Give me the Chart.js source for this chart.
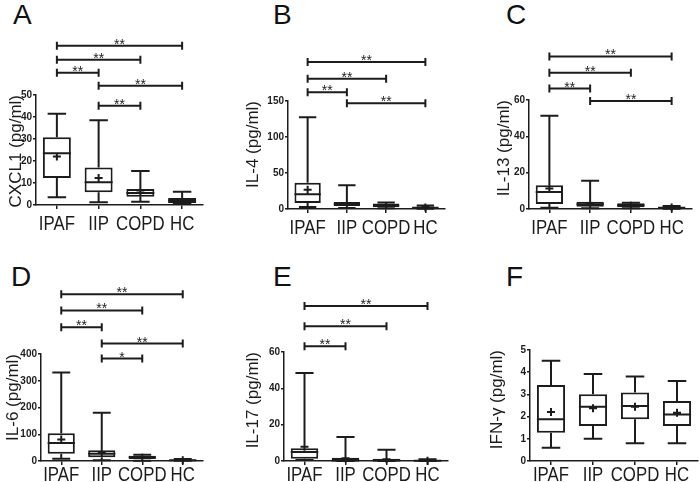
<!DOCTYPE html>
<html>
<head>
<meta charset="utf-8">
<script src="https://cdn.jsdelivr.net/npm/chart.js@4.4.0/dist/chart.umd.min.js"></script>
<style>
  body { margin: 0; background: #fff; }
  #fig { position: relative; width: 700px; height: 482px; overflow: hidden; }
  canvas { position: absolute; }
  .tag { position: absolute; font: 28px/28px "Liberation Sans", Arial, sans-serif; color: #111; }
</style>
</head>
<body>
<div id="fig">
  <div class="tag" style="left:13px;top:1px">A</div>
  <div class="tag" style="left:273px;top:1px">B</div>
  <div class="tag" style="left:506px;top:1px">C</div>
  <div class="tag" style="left:11px;top:263px">D</div>
  <div class="tag" style="left:273px;top:263px">E</div>
  <div class="tag" style="left:506px;top:263px">F</div>
  <canvas id="cA" width="215" height="235" style="left:0;top:0"></canvas>
  <canvas id="cB" width="220" height="240" style="left:235px;top:0"></canvas>
  <canvas id="cC" width="240" height="240" style="left:460px;top:0"></canvas>
  <canvas id="cD" width="215" height="242" style="left:0;top:240px"></canvas>
  <canvas id="cE" width="225" height="242" style="left:235px;top:240px"></canvas>
  <canvas id="cF" width="230" height="242" style="left:470px;top:240px"></canvas>
</div>
<script>
// Grupos
const groups = ['IPAF', 'IIP', 'COPD', 'HC'];

// A - CXCL1
const cxcl1Min = [3.5, 1.2, 1.5, 0.5];
const cxcl1Q1 = [12.3, 5.8, 3.8, 0.9];
const cxcl1Med = [23.5, 10.3, 5.5, 2.0];
const cxcl1Q3 = [30.8, 17.1, 7.3, 3.2];
const cxcl1Max = [41.5, 38.5, 15.5, 6.0];
const cxcl1Mean = [22.0, 12.3, 5.7, 2.1];
const cxcl1Ticks = [0, 10, 20, 30, 40, 50];
const cxcl1Sig = [[0, 3, 72.4, '**'], [0, 2, 66, '**'], [0, 1, 60.1, '**'], [1, 3, 54.2, '**'], [1, 2, 45.1, '**']];

// B - IL-4
const il4Min = [2.8, 1.4, 1.0, 0.3];
const il4Q1 = [8.3, 4.2, 2.5, 0.9];
const il4Med = [20.4, 6.5, 5.0, 1.8];
const il4Q3 = [36.6, 9.7, 7.5, 2.8];
const il4Max = [127.5, 32.9, 9.0, 5.0];
const il4Mean = [26.9, 7.0, 5.0, 2.0];
const il4Ticks = [0, 50, 100, 150];
const il4Sig = [[0, 3, 204, '**'], [0, 2, 181, '**'], [0, 1, 162, '**'], [1, 3, 147, '**']];

// C - IL-13
const il13Min = [0.7, 0.4, 0.4, 0.2];
const il13Q1 = [2.7, 1.3, 0.9, 0.4];
const il13Med = [9.3, 2.6, 2.0, 0.7];
const il13Q3 = [13.1, 4.0, 3.1, 0.9];
const il13Max = [51.3, 15.5, 3.5, 1.6];
const il13Mean = [11.3, 3.1, 1.9, 0.8];
const il13Ticks = [0, 20, 40, 60];
const il13Sig = [[0, 3, 84, '**'], [0, 2, 75, '**'], [0, 1, 66.3, '**'], [1, 3, 59.5, '**']];

// D - IL-6
const il6Min = [8.7, 2.5, 1.2, 0.5];
const il6Q1 = [27, 13.7, 7.5, 1.2];
const il6Med = [67, 27, 14, 3];
const il6Q3 = [104, 40, 20, 5];
const il6Max = [331, 180, 23.5, 7.5];
const il6Mean = [80.7, 33.5, 13, 3];
const il6Ticks = [0, 100, 200, 300, 400];
const il6Sig = [[0, 3, 623, '**'], [0, 2, 563, '**'], [0, 1, 500, '**'], [1, 3, 439, '**'], [1, 2, 383, '*']];

// E - IL-17
const il17Min = [0.5, 0, 0, 0];
const il17Q1 = [1.3, 0, 0, 0];
const il17Med = [5.0, 0.3, 0.3, 0.1];
const il17Q3 = [7.0, 1.8, 1.3, 0.3];
const il17Max = [48.5, 13.2, 6.2, 0.9];
const il17Mean = [7.8, 1.5, 1.0, 0.2];
const il17Ticks = [0, 20, 40, 60];
const il17Sig = [[0, 3, 85.3, '**'], [0, 2, 74.2, '**'], [0, 1, 63.2, '**']];

// F - IFN-γ
const ifngMin = [0.6, 1.0, 0.8, 0.8];
const ifngQ1 = [1.27, 1.58, 1.88, 1.58];
const ifngMed = [1.88, 2.44, 2.48, 2.09];
const ifngQ3 = [3.42, 3.01, 3.09, 2.70];
const ifngMax = [4.52, 3.92, 3.81, 3.60];
const ifngMean = [2.21, 2.38, 2.44, 2.17];
const ifngTicks = [0, 1, 2, 3, 4, 5];
const ifngSig = [];

const ink = '#1c1c1c';
const fam = '"Liberation Sans", Arial, sans-serif';

// bigodes, mediana, média (+), barras de significância e rótulos do eixo x
const boxPlugin = {
    id: 'boxes',
    afterDatasetsDraw(chart) {
        const b = chart.config._config.boxes;
        const y = chart.scales.y;
        const ctx = chart.ctx;
        ctx.save();
        ctx.strokeStyle = ink;
        ctx.lineWidth = 2;
        chart.getDatasetMeta(0).data.forEach((bar, i) => {
            const cx = bar.x, w = bar.width, cap = w * 0.33;
            const yMin = y.getPixelForValue(b.min[i]), yQ1 = y.getPixelForValue(b.q1[i]);
            const yQ3 = y.getPixelForValue(b.q3[i]), yMax = y.getPixelForValue(b.max[i]);
            const yMed = y.getPixelForValue(b.med[i]), yMean = y.getPixelForValue(b.mean[i]);
            ctx.beginPath();
            ctx.moveTo(cx, yQ1); ctx.lineTo(cx, yMin);
            ctx.moveTo(cx - cap, yMin); ctx.lineTo(cx + cap, yMin);
            ctx.moveTo(cx, yQ3); ctx.lineTo(cx, yMax);
            ctx.moveTo(cx - cap, yMax); ctx.lineTo(cx + cap, yMax);
            ctx.moveTo(cx - w / 2, yMed); ctx.lineTo(cx + w / 2, yMed);
            ctx.moveTo(cx - 4, yMean); ctx.lineTo(cx + 4, yMean);
            ctx.moveTo(cx, yMean - 4); ctx.lineTo(cx, yMean + 4);
            ctx.stroke();
        });
        ctx.restore();
    },
    afterDraw(chart) {
        const b = chart.config._config.boxes;
        const x = chart.scales.x, y = chart.scales.y;
        const ctx = chart.ctx;
        ctx.save();
        ctx.strokeStyle = ink;
        ctx.fillStyle = ink;
        ctx.lineWidth = 2;
        ctx.font = '14px ' + fam;
        ctx.textAlign = 'center';
        b.sig.forEach(([a, c, v, txt]) => {
            const x1 = x.getPixelForValue(a), x2 = x.getPixelForValue(c), yy = y.getPixelForValue(v);
            ctx.beginPath();
            ctx.moveTo(x1, yy); ctx.lineTo(x2, yy);
            ctx.moveTo(x1, yy - 4); ctx.lineTo(x1, yy + 4);
            ctx.moveTo(x2, yy - 4); ctx.lineTo(x2, yy + 4);
            ctx.stroke();
            ctx.fillText(txt, (x1 + x2) / 2, yy + 3);
        });
        // rótulos dos grupos, um pouco estreitados como no original
        ctx.font = '20px ' + fam;
        groups.forEach((lab, i) => {
            ctx.save();
            ctx.translate(x.getPixelForValue(i), chart.chartArea.bottom + b.lb);
            ctx.scale(0.84, 1);
            ctx.fillText(lab, 0, 0);
            ctx.restore();
        });
        ctx.restore();
    }
};

function painel(id, title, s, ticks, g) {
    const cfg = {
        type: 'bar',
        data: {
            labels: groups,
            datasets: [{
                data: groups.map((_, i) => [s.q1[i], s.q3[i]]),
                backgroundColor: '#fff',
                borderColor: ink,
                borderWidth: 2,
                borderSkipped: false,
                barPercentage: 0.67,
                categoryPercentage: 1
            }]
        },
        options: {
            responsive: false,
            animation: false,
            layout: { padding: { top: g.pt, right: g.pr, left: 0, bottom: 0 } },
            plugins: { legend: { display: false }, tooltip: { enabled: false } },
            scales: {
                x: {
                    offset: true,
                    afterFit: sc => { sc.height = g.xh; },
                    ticks: { display: false },
                    grid: { offset: false, drawOnChartArea: false, tickLength: 4, color: ink, lineWidth: 1.5 },
                    border: { color: ink, width: 1.5 }
                },
                y: {
                    min: 0,
                    max: ticks[ticks.length - 1],
                    afterBuildTicks: sc => { sc.ticks = ticks.map(v => ({ value: v })); },
                    afterFit: sc => { sc.width = g.yw; },
                    ticks: { font: { family: fam, size: 10, weight: 'bold' }, color: ink, padding: 1 },
                    grid: { drawOnChartArea: false, tickLength: 3, color: ink, lineWidth: 1.5 },
                    border: { color: ink, width: 1.5 },
                    title: { display: true, text: title, align: 'end', color: ink, font: { family: fam, size: 17 }, padding: { top: g.tp, bottom: 0 } }
                }
            }
        },
        plugins: [boxPlugin]
    };
    cfg.boxes = Object.assign({ lb: g.lb }, s);
    return new Chart(document.getElementById(id), cfg);
}

painel('cA', 'CXCL1 (pg/ml)',
    { min: cxcl1Min, q1: cxcl1Q1, med: cxcl1Med, q3: cxcl1Q3, max: cxcl1Max, mean: cxcl1Mean, sig: cxcl1Sig },
    cxcl1Ticks, { pt: 95, pr: 12, xh: 30, yw: 36, tp: 6, lb: 25 });
painel('cB', 'IL-4 (pg/ml)',
    { min: il4Min, q1: il4Q1, med: il4Med, q3: il4Q3, max: il4Max, mean: il4Mean, sig: il4Sig },
    il4Ticks, { pt: 101, pr: 10, xh: 31, yw: 53, tp: 8, lb: 25 });
painel('cC', 'IL-13 (pg/ml)',
    { min: il13Min, q1: il13Q1, med: il13Med, q3: il13Q3, max: il13Max, mean: il13Mean, sig: il13Sig },
    il13Ticks, { pt: 100, pr: 8, xh: 31, yw: 69, tp: 34, lb: 25 });
painel('cD', 'IL-6 (pg/ml)',
    { min: il6Min, q1: il6Q1, med: il6Med, q3: il6Q3, max: il6Max, mean: il6Mean, sig: il6Sig },
    il6Ticks, { pt: 114, pr: 12, xh: 21, yw: 41, tp: 3, lb: 20 });
painel('cE', 'IL-17 (pg/ml)',
    { min: il17Min, q1: il17Q1, med: il17Med, q3: il17Q3, max: il17Max, mean: il17Mean, sig: il17Sig },
    il17Ticks, { pt: 112, pr: 12, xh: 21, yw: 49, tp: 8, lb: 20 });
painel('cF', 'IFN-γ (pg/ml)',
    { min: ifngMin, q1: ifngQ1, med: ifngMed, q3: ifngQ3, max: ifngMax, mean: ifngMean, sig: ifngSig },
    ifngTicks, { pt: 110, pr: 2, xh: 21, yw: 60, tp: 17, lb: 20 });
</script>
</body>
</html>
